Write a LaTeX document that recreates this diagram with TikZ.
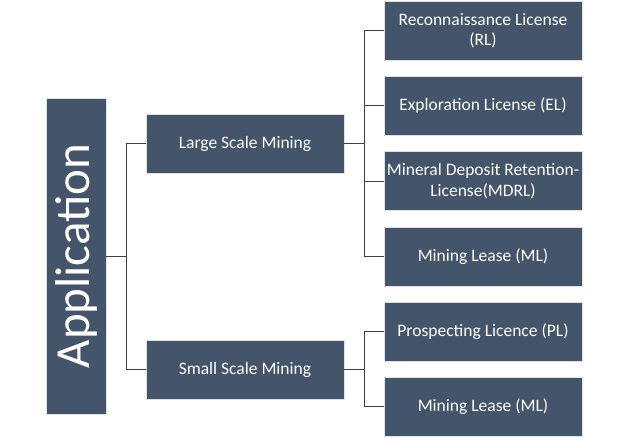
\documentclass[tikz,border=0pt]{standalone}
\usepackage{fontspec}
\setmainfont{Carlito}
\definecolor{boxfill}{HTML}{44546A}
\definecolor{linkgray}{HTML}{3F3F3F}
\tikzset{
  box/.style={fill=boxfill, draw=black!12, line width=0.8pt, text=white,
    minimum width=198pt, minimum height=59pt, align=center, inner sep=1pt,
    font=\fontsize{17.5}{20.5}\selectfont},
  link/.style={draw=linkgray, line width=0.9pt}
}
\begin{document}
\begin{tikzpicture}[x=1pt,y=-1pt]
\useasboundingbox (0,0) rectangle (624,437);
% root
\node [box, minimum width=60pt, minimum height=316pt] (app) at (76,256)
  {\rotatebox{90}{\fontsize{49}{52}\selectfont Application}};
% second level
\node [box] (large) at (245,143.5) {Large Scale Mining};
\node [box] (small) at (245,369.5) {Small Scale Mining};
% licences
\node [box] (rl) at (483,30.5) {Reconnaissance License\\(RL)};
\node [box] (el) at (483,105.5) {Exploration License (EL)};
\node [box] (mdrl) at (483,181) {Mineral Deposit Retention-\\License(MDRL)};
\node [box] (ml) at (483,256.5) {Mining Lease (ML)};
\node [box] (pl) at (483,331.5) {Prospecting Licence (PL)};
\node [box] (mlb) at (483,406.5) {Mining Lease (ML)};
% connectors
\coordinate (j1) at (126,256);
\coordinate (j2) at (364,143.5);
\coordinate (j3) at (364,369.5);
\draw [link] (app.east) -- (j1);
\draw [link] (j1) |- (large.west);
\draw [link] (j1) |- (small.west);
\draw [link] (large.east) -- (j2);
\foreach \n in {rl,el,mdrl,ml}
  \draw [link] (j2) |- (\n.west);
\draw [link] (small.east) -- (j3);
\foreach \n in {pl,mlb}
  \draw [link] (j3) |- (\n.west);
\end{tikzpicture}
\end{document}
